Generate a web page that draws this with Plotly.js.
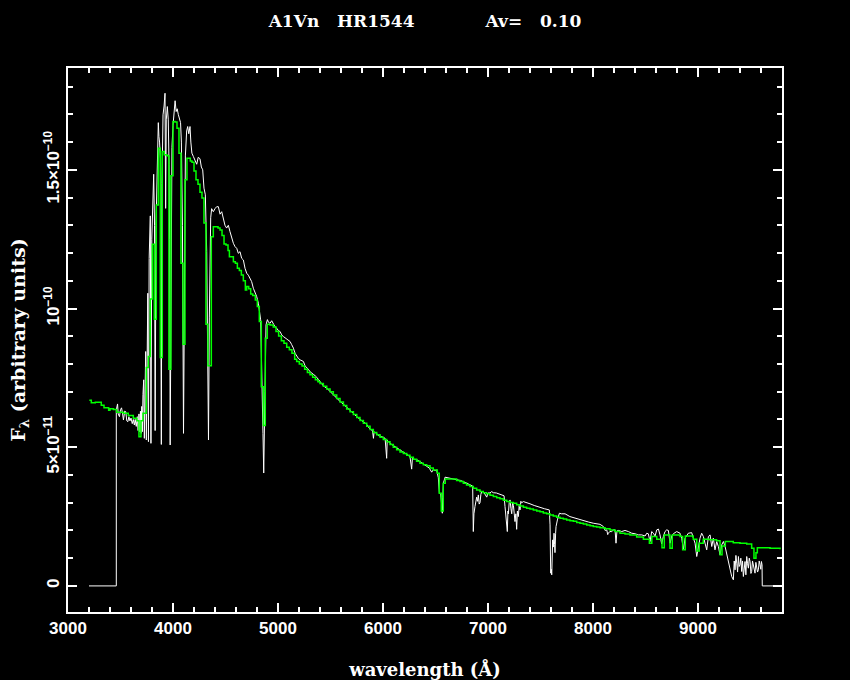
<!DOCTYPE html>
<html>
<head>
<meta charset="utf-8">
<script src="https://cdn.plot.ly/plotly-3.0.1.min.js"></script>
<style>html,body{margin:0;padding:0;background:#000;}</style>
</head>
<body>
<div id="chart" style="width:850px;height:680px;"></div>
<script>
// Observed spectrum (white): wavelength (Å) and flux in units of 1e-11
var obsWave = [3200,3460,3460,3466,3472,3478,3490,3500,3510,3520,3528,3540,3550,3560,3570,3580,3590,3600,3612,3622,3632,3640,3650,3660,3668,3676,3684,3690,3697,3702,3708,3714,3721,3727,3733,3740,3746,3752,3760,3766,3773,3784,3790,3798,3808,3816,3824,3830,3838,3848,3856,3860,3866,3872,3880,3889,3895,3905,3915,3924,3930,3936,3946,3955,3962,3968,3973,3980,3990,4000,4010,4020,4030,4040,4050,4060,4072,4080,4090,4100,4108,4118,4130,4140,4150,4162,4170,4180,4194,4210,4226,4240,4257,4270,4283,4295,4308,4321,4332,4338,4346,4359,4368,4384,4400,4416,4432,4448,4464,4480,4495,4511,4527,4543,4559,4575,4591,4607,4622,4638,4654,4670,4686,4702,4718,4734,4749,4765,4781,4797,4813,4829,4835,4841,4848,4857,4864,4870,4876,4886,4892,4899,4910,4924,4940,4955,4970,4988,5004,5020,5035,5051,5067,5083,5099,5115,5130,5147,5162,5178,5194,5210,5226,5242,5258,5274,5289,5305,5321,5337,5353,5369,5385,5401,5432,5464,5496,5528,5559,5591,5623,5654,5686,5718,5750,5781,5813,5845,5877,5900,5909,5915,5940,5956,5988,6020,6035,6040,6067,6100,6131,6162,6194,6226,6257,6273,6280,6300,6321,6353,6385,6416,6440,6464,6480,6495,6511,6527,6537,6550,6559,6565,6570,6575,6591,6620,6660,6702,6735,6765,6800,6829,6854,6860,6866,6876,6892,6900,6908,6916,6924,6932,6940,6956,6970,6988,7000,7019,7035,7051,7080,7114,7140,7153,7162,7172,7178,7184,7190,7194,7202,7210,7218,7226,7234,7242,7250,7257,7265,7273,7280,7289,7297,7305,7313,7321,7337,7360,7400,7440,7495,7540,7584,7591,7597,7603,7607,7612,7616,7622,7629,7634,7638,7644,7648,7661,7680,7700,7734,7780,7845,7908,7960,8003,8040,8067,8099,8115,8131,8140,8146,8160,8178,8195,8210,8219,8228,8242,8273,8305,8337,8369,8400,8432,8464,8496,8512,8527,8543,8559,8575,8591,8607,8623,8638,8654,8670,8686,8702,8718,8734,8750,8765,8797,8829,8845,8861,8877,8908,8940,8956,8972,8988,9004,9019,9035,9051,9067,9083,9099,9115,9131,9146,9162,9178,9194,9210,9226,9242,9258,9273,9289,9305,9321,9337,9345,9353,9361,9369,9377,9385,9392,9400,9408,9416,9424,9432,9440,9448,9456,9464,9472,9480,9488,9496,9504,9511,9519,9527,9535,9543,9551,9559,9567,9575,9583,9591,9598,9604,9610,9612,9771];
var obsFlux = [0,0,6.34,6.46,6.56,6.2,6.1,6.35,6.42,6.2,5.98,6.3,6.28,5.95,5.92,6.1,5.95,6.05,5.85,6.0,5.8,6.0,5.75,6.1,5.6,6.2,5.55,6.3,5.5,6.47,5.56,6.9,7.43,5.32,7.8,8.45,5.26,9.6,10.55,5.2,11.8,13.34,5.14,12.5,14.2,14.84,13.0,5.6,13.0,15.0,16.0,16.7,16.2,16.0,15.4,5.1,14.5,16.98,17.3,17.76,13.61,16.8,17.28,16.8,15.2,12.5,5.08,12.5,15.8,16.6,17.0,17.49,17.1,17.2,17.0,16.8,16.7,16.0,13.0,5.5,11.0,15.5,16.4,16.56,16.3,16.56,16.0,15.6,15.48,15.3,15.2,15.45,15.4,15.1,15.0,14.34,14.1,12.05,8.0,5.26,9.66,13.27,13.6,13.49,13.6,13.67,13.67,13.4,13.49,13.25,13.0,12.9,13.0,12.77,12.53,12.35,12.23,12.17,11.99,12.05,11.81,11.75,11.45,11.27,11.2,11.09,10.97,10.73,10.6,10.43,10.19,9.77,9.59,8.5,6.46,5.5,4.07,5.0,7.0,9.41,9.53,9.6,9.5,9.47,9.56,9.45,9.35,9.29,9.2,9.17,9.05,8.99,8.95,8.89,8.85,8.81,8.7,8.57,8.39,8.27,8.2,8.15,8.12,8.09,7.93,7.88,7.81,7.72,7.68,7.64,7.58,7.52,7.45,7.37,7.21,7.13,7.0,6.89,6.75,6.65,6.55,6.45,6.32,6.22,6.1,6.0,5.92,5.82,5.65,5.6,5.32,5.55,5.5,5.42,5.38,5.32,4.6,5.25,5.14,5.05,4.96,4.88,4.82,4.74,4.66,4.21,4.6,4.56,4.55,4.48,4.4,4.33,4.25,4.1,4.2,4.15,4.18,3.9,3.34,3.3,2.86,2.62,3.2,3.7,3.92,3.9,3.86,3.82,3.8,3.76,3.7,3.64,3.6,1.96,2.6,2.86,3.2,3.05,3.28,2.95,3.0,3.3,3.4,3.4,3.3,3.2,3.35,3.35,3.4,3.36,3.35,3.3,3.28,3.25,2.86,2.5,2.26,1.96,2.7,2.6,3.0,3.1,2.8,2.6,3.0,2.9,2.6,2.32,2.6,2.04,2.7,2.5,2.9,2.74,3.05,3.0,3.04,3.0,2.96,2.9,2.82,2.78,2.74,2.2,0.46,0.6,0.4,1.2,1.66,1.4,1.9,1.5,1.2,1.9,2.14,2.38,2.62,2.6,2.6,2.5,2.42,2.34,2.3,2.26,2.25,2.22,2.14,2.0,2.02,1.85,1.9,1.96,1.96,2.02,2.02,1.54,1.98,2.0,1.96,2.0,1.96,1.9,1.88,1.84,1.84,1.8,1.9,1.88,1.6,1.96,1.9,1.8,2.02,2.05,1.84,1.51,1.78,1.96,2.02,2.0,1.54,1.8,1.88,1.96,1.9,1.72,1.3,1.72,1.9,1.92,1.72,1.54,1.06,1.42,1.72,1.9,1.78,1.54,1.3,1.78,1.84,1.42,1.72,1.3,1.6,1.42,1.12,1.48,1.6,1.42,1.18,0.94,0.7,0.34,0.22,0.9,0.58,1.1,0.82,0.5,1.06,0.7,0.76,1.0,0.52,0.9,0.34,0.7,0.88,0.4,1.06,0.8,0.64,1.0,0.88,0.45,0.52,0.9,0.7,0.5,0.46,0.85,0.64,0.5,0.58,0.9,0.76,0.6,0.88,0.76,0,0];

// Model spectrum (green, stepped): bin start wavelength (Å) and flux in units of 1e-11
var modelWave = [3203,3222,3260,3317,3343,3387,3400,3432,3463,3527,3574,3622,3657,3676,3695,3714,3746,3765,3784,3803,3822,3841,3860,3879,3898,3917,3942,3961,3980,4000,4019,4038,4057,4076,4095,4114,4133,4165,4181,4200,4219,4238,4257,4276,4295,4314,4333,4365,4384,4429,4448,4467,4486,4505,4524,4537,4575,4594,4613,4632,4651,4670,4689,4702,4721,4740,4759,4784,4803,4822,4841,4860,4879,4898,4924,4955,4981,5006,5032,5057,5083,5108,5133,5159,5178,5203,5229,5254,5280,5305,5330,5356,5380,5400,5432,5464,5496,5527,5559,5591,5623,5654,5686,5718,5750,5781,5813,5845,5877,5908,5940,5972,6003,6035,6067,6098,6130,6162,6194,6226,6257,6289,6320,6352,6384,6416,6448,6479,6517,6536,6555,6574,6593,6669,6701,6733,6765,6796,6828,6860,6892,6924,6955,6987,7019,7051,7083,7114,7146,7178,7210,7241,7273,7305,7337,7368,7400,7432,7464,7495,7527,7559,7590,7622,7654,7686,7718,7749,7781,7813,7845,7876,7908,7940,7972,8003,8035,8067,8115,8162,8210,8257,8305,8352,8416,8480,8537,8560,8607,8657,8679,8733,8755,8829,8854,8879,8955,8988,9012,9050,9110,9177,9210,9229,9260,9336,9400,9464,9511,9533,9552,9565,9590,9686,9781];
var modelFlux = [6.69,6.6,6.62,6.51,6.42,6.33,6.39,6.36,6.26,6.22,6.14,6.04,5.95,5.38,5.95,6.22,7.87,8.27,10.34,12.32,9.61,13.73,15.78,8.23,15.66,15.54,15.51,7.81,14.79,16.74,16.72,16.5,15.6,11.63,8.71,14.64,15.42,15.32,15.27,14.96,14.64,14.48,14.19,13.98,13.08,9.43,7.94,12.59,12.95,12.9,12.83,12.63,12.33,12.29,12.09,11.87,11.69,11.63,11.45,11.37,11.21,11.0,10.67,10.79,10.71,10.52,10.47,10.31,10.07,9.53,7.18,5.78,8.93,9.43,9.41,9.33,9.17,9.01,8.84,8.75,8.6,8.51,8.39,8.17,8.09,8.0,7.93,7.81,7.69,7.61,7.52,7.43,7.36,7.3,7.2,7.1,7.0,6.88,6.76,6.63,6.5,6.38,6.28,6.18,6.07,5.96,5.86,5.76,5.64,5.53,5.45,5.36,5.28,5.2,5.1,5.0,4.91,4.83,4.77,4.71,4.64,4.57,4.49,4.42,4.37,4.33,4.25,4.18,4.06,3.34,2.7,3.7,3.85,3.85,3.8,3.76,3.7,3.64,3.58,3.52,3.46,3.4,3.36,3.32,3.27,3.22,3.18,3.14,3.09,3.04,3.01,2.98,2.93,2.88,2.84,2.8,2.77,2.74,2.7,2.67,2.63,2.6,2.56,2.52,2.48,2.44,2.41,2.38,2.35,2.33,2.29,2.26,2.23,2.2,2.17,2.14,2.12,2.1,2.06,2.02,1.96,1.9,1.87,1.84,1.76,1.68,1.54,1.78,1.68,1.38,1.84,1.36,1.84,1.78,1.3,1.8,1.68,1.26,1.54,1.68,1.66,1.63,1.12,1.44,1.6,1.56,1.54,1.51,1.36,1.0,1.2,1.38,1.38,1.36,1.32];

// Axis ticks
var xRange = [3000, 9800];
var yRange = [-0.94, 18.67];
var xTickVals = [3000,4000,5000,6000,7000,8000,9000];
var yTickVals = [0,5,10,15];
var yTickText = ['0','5×10<sup>−11</sup>','10<sup>−10</sup>','1.5×10<sup>−10</sup>'];

var sp = '\u00A0';
function spaces(n){ return new Array(n+1).join(sp); }
var titleText = 'A1Vn' + spaces(3) + 'HR1544' + spaces(12) + 'Av=' + spaces(3) + '0.10';

var white = '#ffffff';
var tickFont = {family:'Liberation Sans, Arial, sans-serif', size:17, color:white, weight:'bold'};
var labFont = {family:'DejaVu Serif, serif', size:18, color:white, weight:'bold'};

var traces = [
  {x: obsWave, y: obsFlux, type:'scatter', mode:'lines', line:{color:white, width:1}, hoverinfo:'skip'},
  {x: modelWave, y: modelFlux, type:'scatter', mode:'lines', line:{color:'#00ff00', width:1.5, shape:'hv'}, hoverinfo:'skip'}
];

var axisCommon = {
  showline:true, linecolor:white, linewidth:2, mirror:'allticks',
  ticks:'inside', ticklen:9, tickwidth:2, tickcolor:white,
  showgrid:false, zeroline:false, tickfont:tickFont
};

var layout = {
  width:850, height:680,
  paper_bgcolor:'#000', plot_bgcolor:'#000',
  margin:{l:68, r:68, t:68, b:68},
  showlegend:false,
  title:{text:titleText, font:{family:'DejaVu Serif, serif', size:17, color:white, weight:'bold'}, x:0.5, xanchor:'center', y:1-21/680, yanchor:'middle'},
  xaxis: Object.assign({}, axisCommon, {
    range:xRange, tickmode:'array', tickvals:xTickVals,
    minor:{tickmode:'linear', tick0:3000, dtick:200, ticks:'inside', ticklen:5, tickwidth:2, tickcolor:white, showgrid:false},
    title:{text:'wavelength (Å)', font:labFont, standoff:26}
  }),
  yaxis: Object.assign({}, axisCommon, {
    range:yRange, tickmode:'array', tickvals:yTickVals, ticktext:yTickText, tickangle:-90,
    minor:{tickmode:'linear', tick0:0, dtick:1, ticks:'inside', ticklen:5, tickwidth:2, tickcolor:white, showgrid:false},
    title:{text:'F<sub>λ</sub> (arbitrary units)', font:{family:'DejaVu Serif, serif', size:19, color:white, weight:'bold'}, standoff:10}
  })
};

Plotly.newPlot('chart', traces, layout, {staticPlot:true, displayModeBar:false});
</script>
</body>
</html>
